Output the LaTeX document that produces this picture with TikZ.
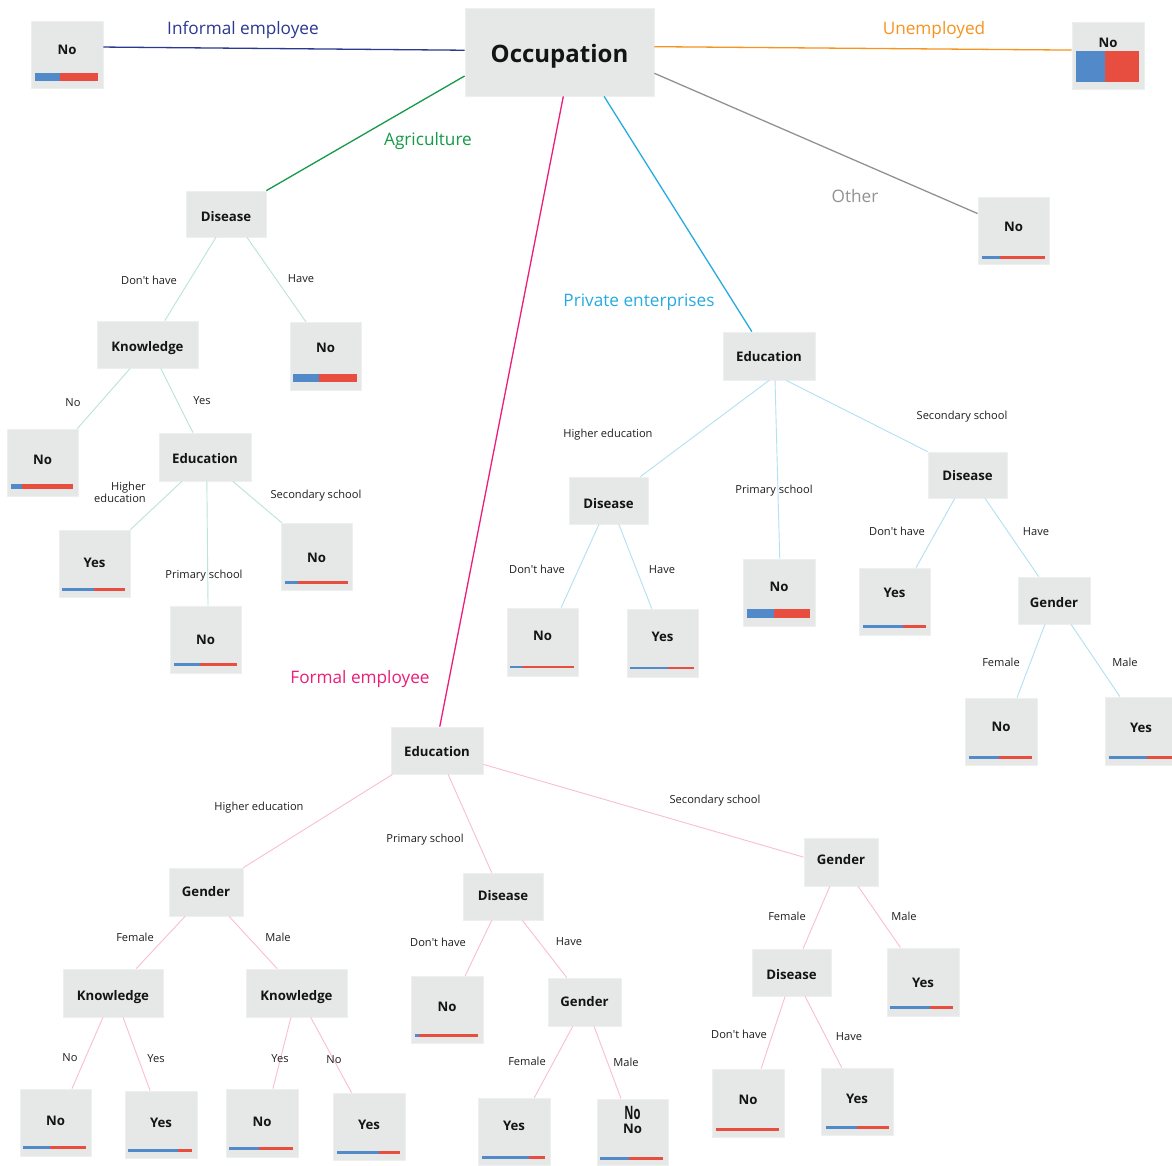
\documentclass[tikz,border=0pt]{standalone}
\usepackage{fontspec}
\usepackage{graphicx}
\setmainfont{Open Sans}
\usetikzlibrary{calc}

\definecolor{boxfill}{RGB}{230,231,231}
\definecolor{boxedge}{RGB}{238,239,239}
\definecolor{cblue}{RGB}{81,137,201}
\definecolor{cred}{RGB}{232,78,63}
\definecolor{ink}{RGB}{20,20,20}
\definecolor{ink2}{RGB}{30,30,30}
\definecolor{cinf}{RGB}{43,57,144}
\definecolor{cunemp}{RGB}{247,147,30}
\definecolor{cagri}{RGB}{20,154,72}
\definecolor{cother}{RGB}{146,146,146}
\definecolor{cpriv}{RGB}{39,170,225}
\definecolor{cform}{RGB}{236,30,121}
\definecolor{eagri}{RGB}{185,229,212}
\definecolor{epriv}{RGB}{178,224,244}
\definecolor{eform}{RGB}{250,190,210}

\tikzset{
  box/.style={rectangle, fill=boxfill, draw=boxedge, line width=0.8pt, inner sep=0pt},
  nodetxt/.style={inner sep=0pt, text=ink, font=\bfseries\fontsize{13.2}{15}\selectfont,
    text height=9.4pt, text depth=0pt, yshift=-0.8pt},
  roottxt/.style={inner sep=0pt, text=ink, font=\bfseries\fontsize{24}{28}\selectfont,
    text height=17pt, text depth=0pt},
  elab/.style={inner sep=0pt, text=ink2, font=\fontsize{11.1}{13}\selectfont,
    text height=7.9pt, text depth=0pt},
  blab/.style={inner sep=0pt, font=\fontsize{17.2}{20}\selectfont,
    text height=12.3pt, text depth=0pt},
  branch/.style={line width=1.3pt},
  agri/.style={draw=eagri, line width=0.9pt},
  priv/.style={draw=epriv, line width=0.9pt},
  form/.style={draw=eform, line width=0.9pt},
}

% box from its corners, with its label at a given height
\newcommand\tbox[7]{%
  \node[box, minimum width={#4-#2}, minimum height={#5-#3}] (#1) at ({(#2+#4)/2},{(#3+#5)/2}) {};
  \node[nodetxt] (#1-l) at (#1.center |- 0,#7) {#6};}
% class ratio bar: y top, y bottom, x left, x split, x right
\newcommand\ratiobar[5]{%
  \fill[cblue] (#3,#1) rectangle (#4,#2);
  \fill[cred] (#4,#1) rectangle (#5,#2);}
% connector from a point on the bottom of one box to a point on the top of another
\newcommand\link[5]{\draw[#1] ($(#2.south west)!#3!(#2.south east)$) -- ($(#4.north west)!#5!(#4.north east)$);}
\newcommand\dont{Don\textquotesingle t have}

\begin{document}
\begin{tikzpicture}[x=1pt,y=-1pt]
\useasboundingbox (0,0) rectangle (1172,1165);
\clip (0,0) rectangle (1172,1165);
\fill[white] (0,0) rectangle (1172,1165);

% ---------- root ----------
\node[box, minimum width=189, minimum height=88] (root) at (559.5,52) {};
\node[roottxt] (root-l) at (root.center |- 0,54) {Occupation};

% ---------- first-level leaves ----------
\tbox{inf}{31}{21}{103}{88}{No}{49}
\tbox{unemp}{1072}{22}{1144}{89}{No}{42}
\tbox{other}{978}{197}{1049}{264}{No}{226}

% ---------- agriculture subtree ----------
\tbox{adis}{186}{191}{266}{237}{Disease}{216}
\tbox{ano}{290}{322}{361}{390}{No}{347}
\tbox{akn}{97}{321}{198}{368}{Knowledge}{346}
\tbox{akno}{7}{429}{78}{496}{No}{459}
\tbox{aed}{159}{433}{251}{481}{Education}{458}
\tbox{aey}{59}{530}{130}{597}{Yes}{562}
\tbox{aep}{170}{606}{241}{673}{No}{639}
\tbox{aes}{281}{523}{352}{590}{No}{557}

% ---------- private enterprises subtree ----------
\tbox{ped}{723}{332}{815}{380}{Education}{356}
\tbox{pdh}{569}{477}{648}{524}{Disease}{503}
\tbox{pdhn}{507}{608}{578}{676}{No}{635}
\tbox{pdhy}{627}{609}{698}{677}{Yes}{636}
\tbox{ppn}{743}{559}{815}{626}{No}{586}
\tbox{pds}{928}{452}{1007}{498}{Disease}{475}
\tbox{pdsy}{859}{568}{930}{635}{Yes}{592}
\tbox{pgn}{1018}{577}{1090}{624}{Gender}{602}
\tbox{pgf}{965}{698}{1037}{765}{No}{726}
\tbox{pgm}{1105}{697}{1177}{765}{Yes}{727}

% ---------- formal employee subtree ----------
\tbox{fed}{391}{727}{483}{774}{Education}{751}
\tbox{fgh}{169}{868}{243}{916}{Gender}{891}
\tbox{fkf}{63}{969}{163}{1017}{Knowledge}{995}
\tbox{fkm}{246}{969}{347}{1017}{Knowledge}{995}
\tbox{fkfn}{20}{1089}{91}{1156}{No}{1120}
\tbox{fkfy}{125}{1091}{197}{1158}{Yes}{1122}
\tbox{fkmn}{226}{1089}{298}{1157}{No}{1121}
\tbox{fkmy}{333}{1093}{405}{1160}{Yes}{1124}
\tbox{fdp}{463}{873}{543}{920}{Disease}{895}
\tbox{fdpn}{411}{976}{483}{1043}{No}{1006}
\tbox{fgp}{548}{978}{621}{1026}{Gender}{1001}
\tbox{fgpy}{478}{1098}{550}{1165}{Yes}{1125}
\node[box, minimum width=71, minimum height=66] (fgpn) at (632.5,1132) {};
\node[nodetxt] (fgpn-a) at (632.5,1114) {\scalebox{0.85}[1.4]{No}};
\node[nodetxt] (fgpn-b) at (632.5,1128) {No};
\tbox{fgs}{804}{838}{878}{886}{Gender}{859}
\tbox{fds}{752}{949}{831}{996}{Disease}{974}
\tbox{fgsy}{887}{948}{959}{1016}{Yes}{982}
\tbox{fdsn}{712}{1069}{784}{1137}{No}{1099}
\tbox{fdsy}{821}{1068}{893}{1135}{Yes}{1098}

% ---------- ratio bars ----------
\ratiobar{73}{81}{35}{60}{98}
\ratiobar{51}{82}{1076}{1105}{1139}
\ratiobar{256}{258.5}{982}{1000}{1045}
\ratiobar{374}{382}{293}{319}{357}
\ratiobar{484}{489}{11}{22}{73}
\ratiobar{587.5}{590.5}{62}{94}{125}
\ratiobar{662.5}{666}{174}{200}{237}
\ratiobar{581}{583.5}{285}{298}{348}
\ratiobar{665.5}{668}{510}{522}{574}
\ratiobar{666.5}{669}{630}{668}{694}
\ratiobar{609}{618}{747}{774}{810}
\ratiobar{625}{627.5}{863}{903}{926}
\ratiobar{756}{758.5}{969}{999}{1032}
\ratiobar{756}{758.5}{1109}{1147}{1177}
\ratiobar{1146}{1148.5}{23}{50}{86}
\ratiobar{1149}{1151.5}{128}{178}{192}
\ratiobar{1147}{1149.5}{229}{259}{293}
\ratiobar{1151}{1153.5}{337}{379}{400}
\ratiobar{1034}{1036.5}{415}{419}{478}
\ratiobar{1156}{1158.5}{482}{529}{545}
\ratiobar{1157}{1159.5}{600}{629}{663}
\ratiobar{1006}{1008.5}{890}{930}{953}
\fill[cred] (716,1128) rectangle (779,1130.5);
\ratiobar{1126}{1128.5}{826}{857}{889}

% ---------- branches from the root ----------
\draw[branch, cinf] ($(inf.north east)!0.39!(inf.south east)$) -- ($(root.north west)!0.48!(root.south west)$);
\draw[branch, cunemp] ($(root.north east)!0.44!(root.south east)$) -- ($(unemp.north west)!0.42!(unemp.south west)$);
\draw[branch, cagri] ($(root.north west)!0.77!(root.south west)$) -- (adis.north east);
\draw[branch, cother] ($(root.north east)!0.74!(root.south east)$) -- ($(other.north west)!0.25!(other.south west)$);
\draw[branch, cpriv] ($(root.south west)!0.735!(root.south east)$) -- ($(ped.north west)!0.315!(ped.north east)$);
\draw[branch, cform] ($(root.south west)!0.52!(root.south east)$) -- ($(fed.north west)!0.53!(fed.north east)$);

\node[blab, text=cinf] (b1) at (243,28) {Informal employee};
\node[blab, text=cunemp] (b2) at (934,28) {Unemployed};
\node[blab, text=cagri] (b3) at (428,139) {Agriculture};
\node[blab, text=cother] (b4) at (855,196) {Other};
\node[blab, text=cpriv] (b5) at (639,300) {Private enterprises};
\node[blab, text=cform] (b6) at (360,677) {Formal employee};

% ---------- agriculture connectors ----------
\link{agri}{adis}{0.375}{akn}{0.67}
\link{agri}{adis}{0.76}{ano}{0.225}
\link{agri}{akn}{0.33}{akno}{0.985}
\link{agri}{akn}{0.63}{aed}{0.37}
\link{agri}{aed}{0.25}{aey}{1}
\link{agri}{aed}{0.52}{aep}{0.535}
\link{agri}{aed}{0.80}{aes}{0.015}

\node[elab] (a1) at (149,281) {\dont};
\node[elab] (a2) at (301,279) {Have};
\node[elab] (a3) at (73,403) {No};
\node[elab] (a4) at (202,401) {Yes};
\node[elab, align=right, text height=, text depth=, font=\fontsize{11.1}{12}\selectfont] (a5) at (120,492) {Higher\\education};
\node[elab] (a6) at (316,495) {Secondary school};
\node[elab] (a7) at (204,575) {Primary school};

% ---------- private enterprises connectors ----------
\link{priv}{ped}{0.5}{pdh}{0.9}
\link{priv}{ped}{0.565}{ppn}{0.51}
\link{priv}{ped}{0.685}{pds}{0}
\link{priv}{pdh}{0.38}{pdhn}{0.76}
\link{priv}{pdh}{0.63}{pdhy}{0.35}
\link{priv}{pds}{0.34}{pdsy}{0.80}
\link{priv}{pds}{0.72}{pgn}{0.29}
\link{priv}{pgn}{0.375}{pgf}{0.72}
\link{priv}{pgn}{0.735}{pgm}{0.21}

\node[elab] (p1) at (608,434) {Higher education};
\node[elab] (p2) at (774,490) {Primary school};
\node[elab] (p3) at (962,416) {Secondary school};
\node[elab] (p4) at (537,570) {\dont};
\node[elab] (p5) at (662,570) {Have};
\node[elab] (p6) at (897,532) {\dont};
\node[elab] (p7) at (1036,532) {Have};
\node[elab] (p8) at (1001,663) {Female};
\node[elab] (p9) at (1125,663) {Male};

% ---------- formal employee connectors ----------
\link{form}{fed}{0.02}{fgh}{1}
\link{form}{fed}{0.62}{fdp}{0.36}
\draw[form] ($(fed.north east)!0.79!(fed.south east)$) -- ($(fgs.north west)!0.4!(fgs.south west)$);
\link{form}{fgh}{0.22}{fkf}{0.73}
\link{form}{fgh}{0.81}{fkm}{0.31}
\link{form}{fkf}{0.40}{fkfn}{0.73}
\link{form}{fkf}{0.60}{fkfy}{0.35}
\link{form}{fkm}{0.445}{fkmn}{0.65}
\link{form}{fkm}{0.64}{fkmy}{0.26}
\link{form}{fdp}{0.36}{fdpn}{0.75}
\link{form}{fdp}{0.74}{fgp}{0.26}
\link{form}{fgp}{0.34}{fgpy}{0.78}
\link{form}{fgp}{0.63}{fgpn}{0.34}
\link{form}{fgs}{0.35}{fds}{0.645}
\link{form}{fgs}{0.73}{fgsy}{0.19}
\link{form}{fds}{0.42}{fdsn}{0.68}
\link{form}{fds}{0.67}{fdsy}{0.29}

\node[elab] (f1) at (259,807) {Higher education};
\node[elab] (f2) at (425,839) {Primary school};
\node[elab] (f3) at (715,800) {Secondary school};
\node[elab] (f4) at (135,938) {Female};
\node[elab] (f5) at (278,938) {Male};
\node[elab] (f6) at (70,1058) {No};
\node[elab] (f7) at (156,1059) {Yes};
\node[elab] (f8) at (280,1059) {Yes};
\node[elab] (f9) at (334,1060) {No};
\node[elab] (f10) at (438,943) {\dont};
\node[elab] (f11) at (569,942) {Have};
\node[elab] (f12) at (527,1062) {Female};
\node[elab] (f13) at (626,1063) {Male};
\node[elab] (f14) at (787,917) {Female};
\node[elab] (f15) at (904,917) {Male};
\node[elab] (f16) at (739,1035) {\dont};
\node[elab] (f17) at (849,1037) {Have};
\end{tikzpicture}
\end{document}
